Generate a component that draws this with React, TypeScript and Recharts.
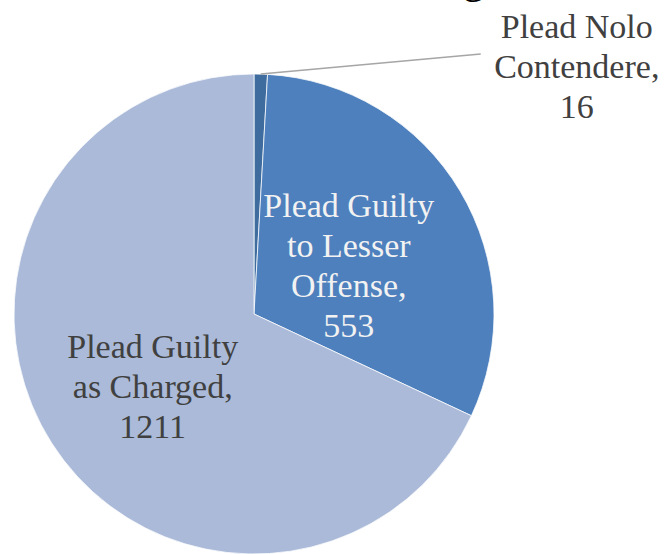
import * as React from 'react'
import { PieChart, Pie, Cell } from 'recharts'

const categories = ['Plead Nolo Contendere', 'Plead Guilty to Lesser Offense', 'Plead Guilty as Charged']
const values = [16, 553, 1211]
const labelLines = [
  ['Plead Nolo', 'Contendere,', '16'],
  ['Plead Guilty', 'to Lesser', 'Offense,', '553'],
  ['Plead Guilty', 'as Charged,', '1211'],
]
const colors = ['#3E6C9F', '#4E80BD', '#AABAD8']
const textColors = ['#404040', '#F2F2F2', '#404040']

const data = categories.map((name, i) => ({ name, value: values[i] }))

const FONT = "'Liberation Serif', serif"
const FS = 34
const LH = 40

const RAD = Math.PI / 180

const renderLabel = (props: any) => {
  const { cx, cy, midAngle, outerRadius, index } = props
  const lines = labelLines[index]
  if (index === 0) {
    // outside label with leader line
    const ex = cx + outerRadius * Math.cos(-midAngle * RAD)
    const ey = cy + outerRadius * Math.sin(-midAngle * RAD)
    const tx = ex + 316
    const ty = ey - 8
    return (
      <g>
        <path d={`M${ex},${ey}L${tx - 96},${ty - 12}`} stroke="#A6A6A6" strokeWidth={1.5} fill="none" />
        {lines.map((l, i) => (
          <text key={i} x={tx} y={ty + (i - 1) * LH} textAnchor="middle" dominantBaseline="central"
            fontFamily={FONT} fontSize={FS} fill={textColors[index]}>{l}</text>
        ))}
      </g>
    )
  }
  const r = outerRadius * (index === 1 ? 0.46 : 0.5)
  const x = cx + r * Math.cos(-midAngle * RAD)
  const y = cy + r * Math.sin(-midAngle * RAD) + 8
  const top = y - ((lines.length - 1) * LH) / 2
  return (
    <g>
      {lines.map((l, i) => (
        <text key={i} x={x} y={top + i * LH} textAnchor="middle" dominantBaseline="central"
          fontFamily={FONT} fontSize={FS} fill={textColors[index]}>{l}</text>
      ))}
    </g>
  )
}

export default function App() {
  return (
    <div style={{ position: 'absolute', left: 0, top: 0, background: '#fff' }}>
      <PieChart width={669} height={554} margin={{ top: 0, right: 0, bottom: 0, left: 0 }}>
        <text x={484} y={-7} textAnchor="end" fontFamily={FONT} fontSize={42} fill="#000">Pleading</text>
        <Pie
          data={data}
          dataKey="value"
          nameKey="name"
          cx={254}
          cy={314}
          outerRadius={240}
          startAngle={90}
          endAngle={-270}
          stroke="#fff"
          strokeWidth={0.75}
          label={renderLabel}
          labelLine={false}
          isAnimationActive={false}
        >
          {data.map((d, i) => (
            <Cell key={d.name} fill={colors[i]} />
          ))}
        </Pie>
      </PieChart>
    </div>
  )
}
